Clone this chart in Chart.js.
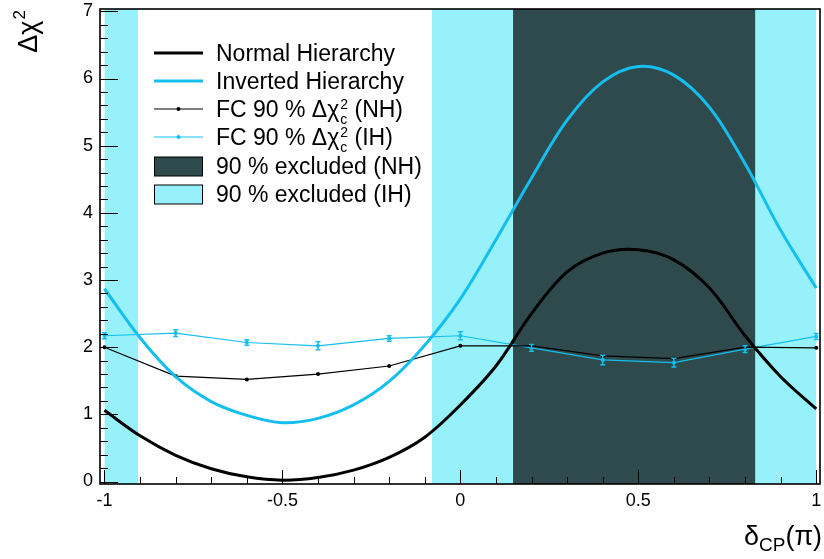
<!DOCTYPE html>
<html><head><meta charset="utf-8">
<script src="https://cdn.jsdelivr.net/npm/chart.js@4/dist/chart.umd.min.js"></script>
<style>html,body{margin:0;padding:0;background:#fff}#wrap{width:824px;height:559px;position:relative}</style>
</head><body><div id="wrap"><canvas id="c" width="824" height="559"></canvas></div>
<script>
// ---- data ----
const deltaCP = [-1,-0.9,-0.8,-0.7,-0.6,-0.5,-0.4,-0.3,-0.2,-0.1,0,0.1,0.2,0.3,0.4,0.5,0.6,0.7,0.8,0.9,1];
const nhChi2 = [1.06,0.68,0.39,0.19,0.07,0.02,0.06,0.17,0.36,0.66,1.14,1.72,2.50,3.12,3.40,3.45,3.30,2.88,2.17,1.56,1.08];
const ihChi2 = [2.87,2.14,1.56,1.19,0.985,0.875,0.94,1.14,1.49,2.03,2.72,3.60,4.52,5.38,5.95,6.18,6.05,5.57,4.73,3.74,2.88];
const fcDeltaCP = [-1,-0.8,-0.6,-0.4,-0.2,0,0.2,0.4,0.6,0.8,1];
const fcNH = [2.00,1.57,1.52,1.60,1.72,2.02,2.02,1.87,1.83,2.00,1.99];
const fcIH = [2.17,2.21,2.07,2.02,2.13,2.17,1.99,1.81,1.77,1.97,2.16];
const fcIHErr = [0.045,0.05,0.04,0.06,0.04,0.06,0.05,0.07,0.065,0.05,0.045];
const ihExcluded = [[-1,-0.905],[-0.08,1]];
const nhExcluded = [[0.148,0.829]];
const xTicks = [-1,-0.5,0,0.5,1];
const yTicks = [0,1,2,3,4,5,6,7];
const legendLabels = ['Normal Hierarchy','Inverted Hierarchy','FC 90 % \u0394\u03C7','FC 90 % \u0394\u03C7','90 % excluded (NH)','90 % excluded (IH)'];

const X_MIN = -1.0125, X_MAX = 1.0105, Y_MIN = -0.037, Y_MAX = 7.035;
const FONT = "'Liberation Sans', Arial, Helvetica, sans-serif";
const CYAN = '#14bff0';
const IH_FILL = '#96f1fa';
const NH_FILL = '#2e4a4c';

const pts = (xs, ys) => xs.map((x,i)=>({x, y: ys[i]}));
const bands = (list, col, order) => list.map(([a,b]) => ({
  type:'line', data:[{x:a,y:Y_MAX},{x:b,y:Y_MAX}], fill:'start', backgroundColor:col,
  borderWidth:0, pointRadius:0, order
}));

const decor = {
  id:'decor',
  afterDatasetsDraw(chart){
    const ctx = chart.ctx, xs = chart.scales.x, ys = chart.scales.y;
    ctx.save();
    ctx.strokeStyle = CYAN; ctx.lineWidth = 1.5;
    fcDeltaCP.forEach((x,i)=>{
      const px = xs.getPixelForValue(x);
      const y1 = ys.getPixelForValue(fcIH[i]-fcIHErr[i]), y2 = ys.getPixelForValue(fcIH[i]+fcIHErr[i]);
      ctx.beginPath();
      ctx.moveTo(px,y1); ctx.lineTo(px,y2);
      ctx.moveTo(px-2.5,y1); ctx.lineTo(px+2.5,y1);
      ctx.moveTo(px-2.5,y2); ctx.lineTo(px+2.5,y2);
      ctx.stroke();
    });
    ctx.restore();
  },
  afterDraw(chart){
    const ctx = chart.ctx, a = chart.chartArea, xs = chart.scales.x, ys = chart.scales.y;
    ctx.save();
    ctx.strokeStyle = '#000'; ctx.lineWidth = 1;
    ctx.beginPath();
    for (let k=-10;k<=10;k++){
      const v = k/10, px = Math.round(xs.getPixelForValue(v))+0.5;
      const len = (k%5===0) ? 14 : 7;
      ctx.moveTo(px,a.bottom); ctx.lineTo(px,a.bottom-len);
    }
    for (let k=0;k<=35;k++){
      const v = k/5, py = Math.round(ys.getPixelForValue(v))+0.5;
      const len = (k%5===0) ? 18 : 8;
      ctx.moveTo(a.left,py); ctx.lineTo(a.left+len,py);
    }
    ctx.stroke();
    ctx.lineWidth = 1.6;
    ctx.strokeRect(a.left, a.top, a.right-a.left, a.bottom-a.top);

    // legend
    const lx0 = 154, lx1 = 203, tx = 216;
    const rows = [53,81,109,137,166.5,194.5];
    ctx.textBaseline = 'alphabetic'; ctx.textAlign = 'left';
    ctx.lineWidth = 3; ctx.strokeStyle = '#000';
    ctx.beginPath(); ctx.moveTo(lx0,rows[0]); ctx.lineTo(lx1,rows[0]); ctx.stroke();
    ctx.strokeStyle = CYAN;
    ctx.beginPath(); ctx.moveTo(lx0,rows[1]); ctx.lineTo(lx1,rows[1]); ctx.stroke();
    ctx.lineWidth = 1.2;
    ctx.strokeStyle = '#000'; ctx.fillStyle = '#000';
    ctx.beginPath(); ctx.moveTo(lx0,rows[2]); ctx.lineTo(lx1,rows[2]); ctx.stroke();
    ctx.beginPath(); ctx.arc((lx0+lx1)/2, rows[2], 2, 0, Math.PI*2); ctx.fill();
    ctx.strokeStyle = CYAN; ctx.fillStyle = CYAN;
    ctx.beginPath(); ctx.moveTo(lx0,rows[3]); ctx.lineTo(lx1,rows[3]); ctx.stroke();
    ctx.beginPath(); ctx.arc((lx0+lx1)/2, rows[3], 2, 0, Math.PI*2); ctx.fill();
    [[NH_FILL,rows[4]],[IH_FILL,rows[5]]].forEach(([p,cy])=>{
      ctx.fillStyle = p; ctx.fillRect(lx0, cy-9.5, lx1-lx0, 19);
      ctx.strokeStyle = '#000'; ctx.lineWidth = 1; ctx.strokeRect(lx0+0.5, cy-9.5, lx1-lx0-1, 19);
    });
    ctx.fillStyle = '#000'; ctx.font = '23px ' + FONT;
    const base = rows.map(r=>r+7.5);
    ctx.fillText(legendLabels[0], tx, base[0]);
    ctx.fillText(legendLabels[1], tx, base[1]);
    [2,3].forEach(i=>{
      ctx.font = '23px ' + FONT;
      const w = ctx.measureText(legendLabels[i]).width;
      ctx.fillText(legendLabels[i], tx, base[i]);
      ctx.font = '14px ' + FONT;
      ctx.fillText('2', tx+w+1, base[i]-8);
      ctx.fillText('c', tx+w+1, base[i]+7);
      const w2 = ctx.measureText('2').width;
      ctx.font = '23px ' + FONT;
      ctx.fillText(i===2 ? ' (NH)' : ' (IH)', tx+w+w2+1, base[i]);
    });
    ctx.fillText(legendLabels[4], tx, base[4]);
    ctx.fillText(legendLabels[5], tx, base[5]);

    // x title
    ctx.font = '27px ' + FONT;
    const tRight = 822, tBase = 545;
    const wPi = ctx.measureText('(\u03C0)').width;
    ctx.font = '19px ' + FONT;
    const wCP = ctx.measureText('CP').width;
    ctx.font = '27px ' + FONT;
    const wD = ctx.measureText('\u03B4').width;
    const x0 = tRight - wPi - wCP - wD;
    ctx.fillText('\u03B4', x0, tBase);
    ctx.fillText('(\u03C0)', x0 + wD + wCP, tBase);
    ctx.font = '19px ' + FONT;
    ctx.fillText('CP', x0 + wD, tBase + 6);

    // y title
    ctx.translate(37, 10);
    ctx.rotate(-Math.PI/2);
    ctx.font = '17px ' + FONT;
    const w2y = ctx.measureText('2').width;
    ctx.font = '27px ' + FONT;
    const wDx = ctx.measureText('\u0394\u03C7').width;
    ctx.fillText('\u0394\u03C7', -(wDx + w2y + 1), 0);
    ctx.font = '17px ' + FONT;
    ctx.fillText('2', -(w2y), -12);
    ctx.restore();
  }
};

new Chart(document.getElementById('c'), {
  type:'line',
  data:{
    datasets:[
      { label:'Normal Hierarchy', data:pts(deltaCP,nhChi2), borderColor:'#000', borderWidth:3, pointRadius:0, tension:0.35, fill:false, order:1 },
      { label:'Inverted Hierarchy', data:pts(deltaCP,ihChi2), borderColor:CYAN, borderWidth:3, pointRadius:0, tension:0.35, fill:false, order:2 },
      { label:'FC NH', data:pts(fcDeltaCP,fcNH), borderColor:'#000', backgroundColor:'#000', borderWidth:1.2, pointRadius:2, pointBorderWidth:0, tension:0, fill:false, order:3 },
      { label:'FC IH', data:pts(fcDeltaCP,fcIH), borderColor:CYAN, backgroundColor:CYAN, borderWidth:1.2, pointRadius:2, pointBorderWidth:0, tension:0, fill:false, order:4 },
      ...bands(nhExcluded, NH_FILL, 10),
      ...bands(ihExcluded, IH_FILL, 11)
    ]
  },
  options:{
    responsive:false, animation:false, devicePixelRatio:1,
    layout:{ padding:{ left:0, right:4, top:9, bottom:0 } },
    plugins:{ legend:{display:false}, tooltip:{enabled:false} },
    scales:{
      x:{ type:'linear', min:X_MIN, max:X_MAX,
        grid:{display:false, drawTicks:false}, border:{display:false},
        afterBuildTicks:s=>{ s.ticks = xTicks.map(v=>({value:v})); },
        afterFit:s=>{ s.height = 75; s.paddingLeft = 0; s.paddingRight = 0; },
        ticks:{ autoSkip:false, maxRotation:0, padding:6, color:'#000', font:{family:FONT, size:18}, callback:v=>String(v) } },
      y:{ type:'linear', min:Y_MIN, max:Y_MAX,
        grid:{display:false, drawTicks:false}, border:{display:false},
        afterBuildTicks:s=>{ s.ticks = yTicks.map(v=>({value:v})); },
        afterFit:s=>{ s.width = 100; s.paddingTop = 0; s.paddingBottom = 0; },
        ticks:{ padding:7, color:'#000', font:{family:FONT, size:18}, callback:v=>String(v) } }
    }
  },
  plugins:[decor]
});
</script></body></html>
